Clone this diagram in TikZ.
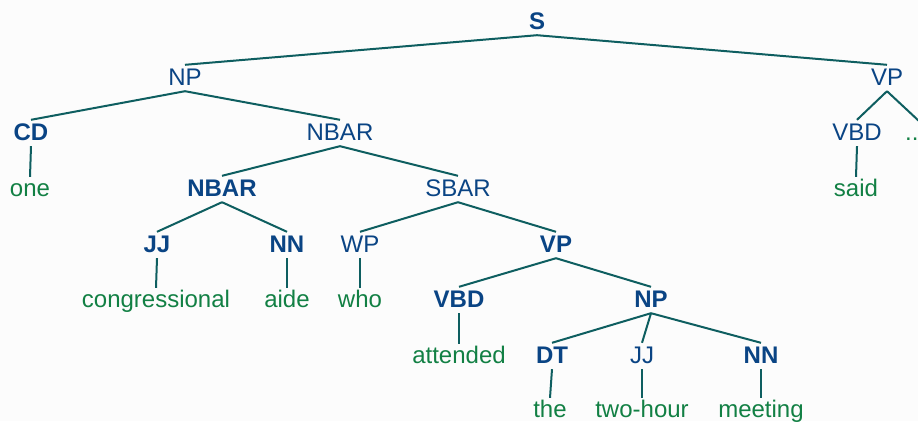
\documentclass[tikz,border=0pt]{standalone}
\usepackage{fontspec}
\setmainfont{Liberation Sans}
\definecolor{labc}{RGB}{10,68,132}
\definecolor{leafc}{RGB}{18,128,68}
\definecolor{edgec}{RGB}{14,94,96}
\definecolor{bgc}{RGB}{252,252,252}
\tikzset{
  tag/.style={font=\fontsize{24}{28}\selectfont, text=labc, anchor=base,
    inner sep=0pt, text height=20pt, text depth=6pt},
  btag/.style={tag, font=\fontsize{24}{28}\selectfont\bfseries},
  word/.style={font=\fontsize{24}{28}\selectfont, text=leafc, anchor=base,
    inner sep=0pt, text height=19pt, text depth=6pt},
  branch/.style={draw=edgec, line width=2pt}
}
\begin{document}
\begin{tikzpicture}[x=1pt,y=-1pt]
  \fill[bgc] (0,0) rectangle (918,421);
  \useasboundingbox (0,0) rectangle (918,421);

  % phrase labels and words, row by row
  \node[btag] (S) at (537,29) {S};

  \node[tag] (NPa) at (185,85) {NP};
  \node[tag] (VPa) at (887,85) {VP};

  \node[btag] (CD) at (31,140) {CD};
  \node[tag] (NBARa) at (340,140) {NBAR};
  \node[tag] (VBDa) at (857,140) {VBD};
  \node[word, anchor=base west] (dots) at (905,140) {..};

  \node[word] (one) at (30,196) {one};
  \node[btag] (NBARb) at (222,196) {NBAR};
  \node[tag] (SBAR) at (458,196) {SBAR};
  \node[word] (said) at (856,196) {said};

  \node[btag] (JJa) at (157,252) {JJ};
  \node[btag] (NNa) at (287,252) {NN};
  \node[tag] (WP) at (360,252) {WP};
  \node[btag] (VPb) at (556,252) {VP};

  \node[word] (congressional) at (156,307) {congressional};
  \node[word] (aide) at (287,307) {aide};
  \node[word] (who) at (360,307) {who};
  \node[btag] (VBDb) at (459,307) {VBD};
  \node[btag] (NPb) at (651,307) {NP};

  \node[word] (attended) at (459,363) {attended};
  \node[btag] (DT) at (552,363) {DT};
  \node[tag] (JJb) at (642,363) {JJ};
  \node[btag] (NNb) at (761,363) {NN};

  \node[word] (the) at (550,417) {the};
  \node[word] (twohour) at (642,417) {two-hour};
  \node[word] (meeting) at (761,417) {meeting};

  % tree branches
  \draw[branch] (S.south) -- (NPa.north);
  \draw[branch] (S.south) -- (VPa.north);
  \draw[branch] (NPa.south) -- (CD.north);
  \draw[branch] (NPa.south) -- (NBARa.north);
  \draw[branch] (CD.south) -- (one.north);
  \draw[branch] (NBARa.south) -- (NBARb.north);
  \draw[branch] (NBARa.south) -- (SBAR.north);
  \draw[branch] (VPa.south) -- (VBDa.north);
  \draw[branch] (VPa.south) -- (dots.north east);
  \draw[branch] (VBDa.south) -- (said.north);
  \draw[branch] (NBARb.south) -- (JJa.north);
  \draw[branch] (NBARb.south) -- (NNa.north);
  \draw[branch] (SBAR.south) -- (WP.north);
  \draw[branch] (SBAR.south) -- (VPb.north);
  \draw[branch] (JJa.south) -- (congressional.north);
  \draw[branch] (NNa.south) -- (aide.north);
  \draw[branch] (WP.south) -- (who.north);
  \draw[branch] (VPb.south) -- (VBDb.north);
  \draw[branch] (VPb.south) -- (NPb.north);
  \draw[branch] (VBDb.south) -- (attended.north);
  \draw[branch] (NPb.south) -- (DT.north);
  \draw[branch] (NPb.south) -- (JJb.north);
  \draw[branch] (NPb.south) -- (NNb.north);
  \draw[branch] (DT.south) -- (the.north);
  \draw[branch] (JJb.south) -- (twohour.north);
  \draw[branch] (NNb.south) -- (meeting.north);
\end{tikzpicture}
\end{document}
